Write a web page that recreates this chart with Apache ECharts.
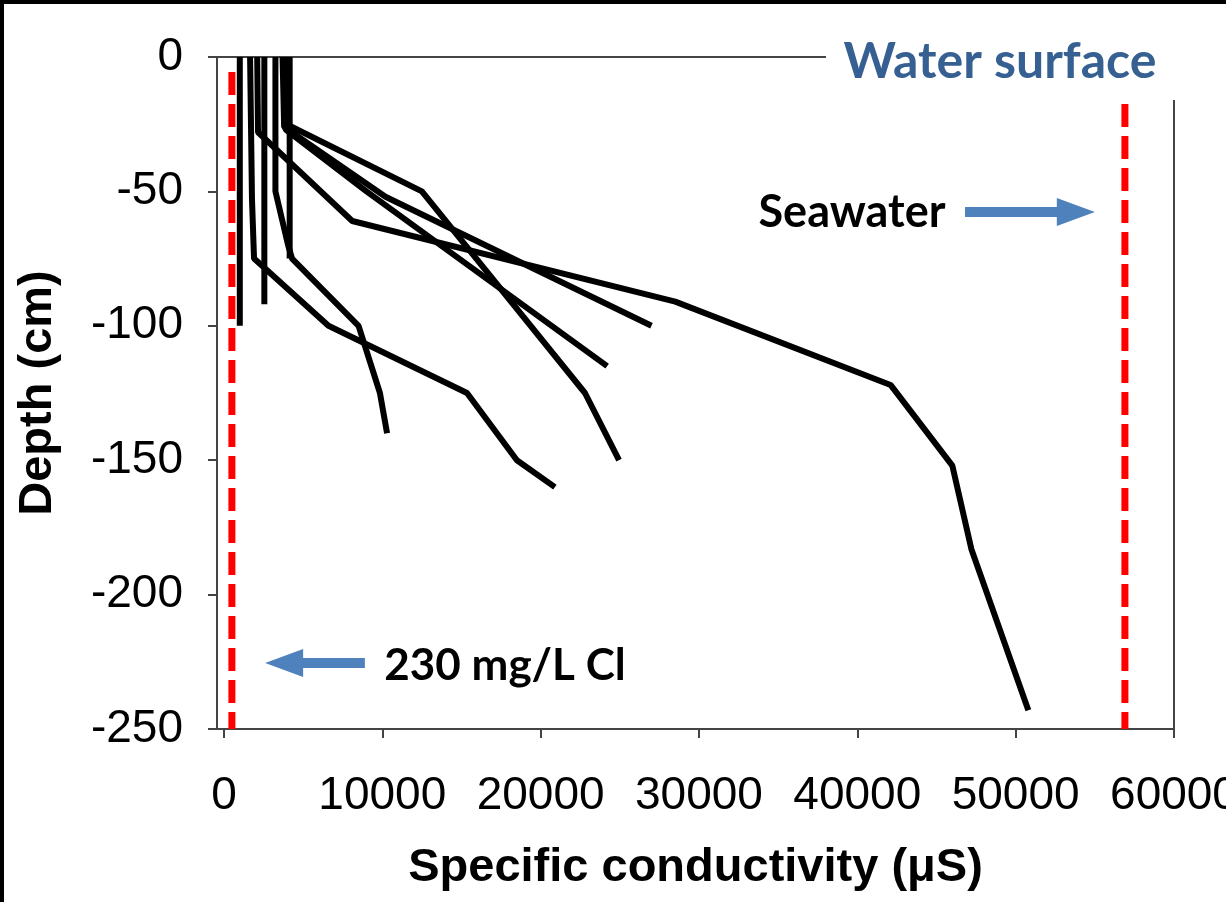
<!DOCTYPE html>
<html><head><meta charset="utf-8">
<script src="https://cdn.jsdelivr.net/npm/echarts@6/dist/echarts.min.js"></script>
<style>html,body{margin:0;padding:0;background:#fff}#c{width:1226px;height:902px}</style>
</head><body><div id="c"></div>
<script>
// ---- data (specific conductivity µS, depth cm) ----
const xTickValues = [0, 10000, 20000, 30000, 40000, 50000, 60000];
const yTickValues = [0, -50, -100, -150, -200, -250];

const profile1 = [[1000, 0], [1000, -100]];
const profile2 = [[1650, 0], [1770, -53], [1900, -75], [6600, -100], [15350, -125], [18500, -150], [20900, -160]];
const profile3 = [[2100, 0], [2150, -28], [8100, -61], [28500, -91], [42100, -122], [46000, -152], [47200, -183], [50800, -243]];
const profile4 = [[2550, 0], [2550, -92]];
const profile5 = [[3250, 0], [3250, -50], [4050, -70], [4300, -75], [8500, -100], [9850, -125], [10300, -140]];
const profile6 = [[4150, 0], [4150, -75]];
const profile7 = [[3850, 0], [3950, -25], [12500, -50], [22800, -125], [24950, -150]];
const profile8 = [[3800, 0], [3900, -27], [9000, -50], [24200, -115]];
const profile9 = [[3700, 0], [3800, -26], [10200, -52], [27000, -100]];
const profiles = [profile1, profile2, profile3, profile4, profile5, profile6, profile7, profile8, profile9];

const clLimitLine = [[500, -5.6], [500, -250]];
const seawaterLine = [[56900, -5.6], [56900, -250]];

const seawaterArrow = [[46800, -57.7], [53800, -57.7]];
const clArrow = [[8900, -225.4], [3800, -225.4]];

const xName = 'Specific conductivity (\u03bcS)';
const yName = 'Depth (cm)';
const labelWater = 'Water surface';
const labelSea = 'Seawater';
const labelCl = '230 mg/L Cl';

// ---- chart ----
const chart = echarts.init(document.getElementById('c'), null, {renderer: 'canvas'});
const axisColor = '#444';
const tickFont = {fontFamily: 'Liberation Sans, Arial, sans-serif', fontSize: 46, color: '#000'};

const series = profiles.map(p => ({
  type: 'line', data: p, showSymbol: false, symbol: 'none', silent: true,
  lineStyle: {color: '#000', width: 6}, z: 3
}));
[clLimitLine, seawaterLine].forEach(l => series.push({
  type: 'line', data: l, showSymbol: false, symbol: 'none', silent: true,
  lineStyle: {color: '#FF0000', width: 7, type: [23, 9]}, z: 2
}));
series.push({
  type: 'line', data: [], silent: true, z: 4,
  markLine: {
    silent: true, animation: false,
    symbol: ['none', 'triangle'], symbolSize: [28, 38],
    label: {show: false},
    lineStyle: {color: '#4F81BD', width: 10, type: 'solid'},
    data: [
      [{coord: seawaterArrow[0]}, {coord: seawaterArrow[1]}],
      [{coord: clArrow[0]}, {coord: clArrow[1]}]
    ]
  }
});

chart.setOption({
  animation: false,
  backgroundColor: '#fff',
  grid: {left: 217, right: 52, top: 57, bottom: 173, show: true, borderColor: axisColor, borderWidth: 2,
         containLabel: false, outerBoundsMode: 'none'},
  xAxis: {
    type: 'value', min: -440, max: 60000,
    axisLine: {show: true, onZero: false, lineStyle: {color: axisColor, width: 2}},
    axisTick: {show: true, length: 9, customValues: xTickValues, lineStyle: {color: axisColor, width: 2}},
    axisLabel: Object.assign({margin: 44, customValues: xTickValues, formatter: v => String(v)}, tickFont),
    splitLine: {show: false},
    name: xName, nameLocation: 'middle', nameGap: 116,
    nameTextStyle: {fontFamily: 'Liberation Sans, Arial, sans-serif', fontWeight: 'bold', fontSize: 47, color: '#000'}
  },
  yAxis: {
    type: 'value', min: -250, max: 0, interval: 50,
    axisLine: {show: true, onZero: false, lineStyle: {color: axisColor, width: 2}},
    axisTick: {show: true, length: 9, lineStyle: {color: axisColor, width: 2}},
    axisLabel: Object.assign({margin: 34, formatter: v => String(v)}, tickFont),
    splitLine: {show: false},
    name: yName, nameLocation: 'middle', nameGap: 155, nameRotate: 90,
    nameTextStyle: {fontFamily: 'Liberation Sans, Arial, sans-serif', fontWeight: 'bold', fontSize: 47, color: '#000'}
  },
  series: series,
  graphic: [
    {type: 'rect', shape: {x: 0, y: 0, width: 1226, height: 4}, style: {fill: '#000'}, z: 100},
    {type: 'rect', shape: {x: 0, y: 0, width: 4, height: 902}, style: {fill: '#000'}, z: 100},
    {type: 'rect', shape: {x: 826, y: 20, width: 400, height: 80}, style: {fill: '#fff'}, z: 50},
    {type: 'text', x: 1000, y: 62, z: 60, style: {text: labelWater, fill: '#376092', font: 'bold 50px Lato, sans-serif', textAlign: 'center', textVerticalAlign: 'middle'}},
    {type: 'text', x: 852, y: 212, z: 60, style: {text: labelSea, fill: '#000', font: 'bold 45px Lato, sans-serif', textAlign: 'center', textVerticalAlign: 'middle'}},
    {type: 'text', x: 505, y: 666, z: 60, style: {text: labelCl, fill: '#000', font: 'bold 44px Lato, sans-serif', textAlign: 'center', textVerticalAlign: 'middle'}}
  ]
});
</script>
</body></html>
